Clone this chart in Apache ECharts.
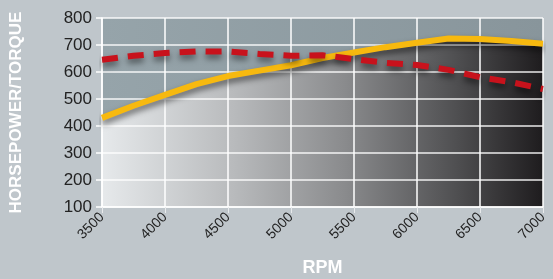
<!DOCTYPE html>
<html>
<head>
<meta charset="utf-8">
<script src="https://cdn.jsdelivr.net/npm/echarts@6/dist/echarts.min.js"></script>
<style>
html, body { margin: 0; padding: 0; background: #bfc6cb; }
#main { width: 553px; height: 279px; }
</style>
</head>
<body>
<div id="main"></div>
<script>
// rpm steps
var rpm = [3500, 3750, 4000, 4250, 4500, 4750, 5000, 5250, 5500, 5750, 6000, 6250, 6500, 6750, 7000];
var horsepower = [430, 475, 515, 555, 585, 605, 625, 652, 672, 692, 708, 724, 722, 715, 705];
var torque = [645, 660, 670, 676, 676, 667, 660, 662, 648, 634, 626, 608, 581, 562, 537];

function pairs(xs, ys) {
    var out = [];
    for (var i = 0; i < xs.length; i++) out.push([xs[i], ys[i]]);
    return out;
}

var myChart = echarts.init(document.getElementById('main'));
var option = {
    animation: false,
    backgroundColor: '#bfc6cb',
    grid: {
        left: 102, right: 10, top: 18, bottom: 72,
        outerBoundsMode: 'none',
        show: true,
        borderWidth: 0,
        z: 0,
        backgroundColor: new echarts.graphic.LinearGradient(0, 0, 1, 0, [
            {offset: 0, color: '#e6e9eb'},
            {offset: 0.3, color: '#b8babc'},
            {offset: 0.55, color: '#8a8b8d'},
            {offset: 0.8, color: '#505052'},
            {offset: 1, color: '#1e1c1e'}
        ])
    },
    xAxis: {
        type: 'value',
        z: 2,
        min: 3500, max: 7000, interval: 500,
        name: 'RPM',
        nameLocation: 'middle',
        nameGap: 52,
        nameTextStyle: {color: '#ffffff', fontSize: 18, fontWeight: 'bold', fontFamily: 'Liberation Sans'},
        axisLine: {show: true, lineStyle: {color: '#ffffff', width: 1.5}},
        axisTick: {show: true, length: 6, lineStyle: {color: '#e8eaec', width: 1}},
        axisLabel: {
            rotate: 45, color: '#222222', fontSize: 14, fontFamily: 'Liberation Sans', margin: 8,
            formatter: function (v) { return String(v); }
        },
        splitLine: {show: true, lineStyle: {color: '#ffffff', width: 1.5}}
    },
    yAxis: {
        type: 'value',
        z: 2,
        min: 100, max: 800, interval: 100,
        name: 'HORSEPOWER/TORQUE',
        nameLocation: 'middle',
        nameGap: 77,
        nameTextStyle: {color: '#ffffff', fontSize: 17, fontWeight: 'bold', fontFamily: 'Liberation Sans'},
        axisLine: {show: true, lineStyle: {color: '#ffffff', width: 1.5}},
        axisTick: {show: true, length: 6, lineStyle: {color: '#ffffff', width: 1.5}},
        axisLabel: {color: '#222222', fontSize: 17, fontFamily: 'Liberation Sans', margin: 10},
        splitLine: {show: true, lineStyle: {color: 'rgba(255,255,255,0.9)', width: 1.5}}
    },
    series: [
        {
            // blue-grey fill above the horsepower curve
            name: 'HorsepowerArea',
            type: 'line',
            data: pairs(rpm, horsepower),
            showSymbol: false,
            silent: true,
            z: 1,
            lineStyle: {width: 0, opacity: 0},
            areaStyle: {
                origin: 'end',
                opacity: 1,
                color: new echarts.graphic.LinearGradient(0, 0, 1, 0, [
                    {offset: 0, color: '#96a4aa'},
                    {offset: 1, color: '#88959b'}
                ])
            }
        },
        {
            name: 'Horsepower',
            type: 'line',
            data: pairs(rpm, horsepower),
            showSymbol: false,
            z: 4,
            lineStyle: {
                color: '#f7b90f', width: 6,
                shadowColor: 'rgba(0,0,0,0.55)', shadowBlur: 6, shadowOffsetY: 4
            }
        },
        {
            name: 'Torque',
            type: 'line',
            data: pairs(rpm, torque),
            showSymbol: false,
            z: 5,
            lineStyle: {
                color: '#c8121c', width: 6, type: [16, 10],
                shadowColor: 'rgba(0,0,0,0.5)', shadowBlur: 6, shadowOffsetY: 4
            }
        }
    ]
};
myChart.setOption(option);
</script>
</body>
</html>
